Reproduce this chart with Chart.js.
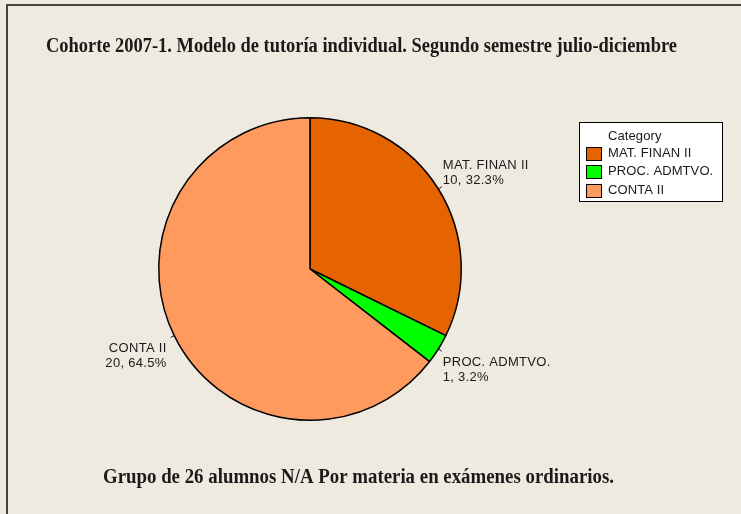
<!DOCTYPE html>
<html>
<head>
<meta charset="utf-8">
<script src="https://cdn.jsdelivr.net/npm/chart.js@4.4.0/dist/chart.umd.min.js"></script>
<style>
  html, body { margin: 0; padding: 0; background: #efeae0; }
</style>
</head>
<body>
<canvas id="chart" width="741" height="514"></canvas>
<script>
const TITLE = 'Cohorte 2007-1. Modelo de tutoría individual. Segundo semestre julio-diciembre';
const FOOTNOTE = 'Grupo de 26 alumnos N/A Por materia en exámenes ordinarios.';
const LEGEND_TITLE = 'Category';
const categories = ['MAT. FINAN II', 'PROC. ADMTVO.', 'CONTA II'];
const counts = [10, 1, 20];
const colors = ['#e66400', '#00ff00', '#ff9a5e'];

const LABEL_FONT = '13px "Liberation Sans", Arial, sans-serif';
const CAPTION_FONT = 'bold 20px "Liberation Serif", "Times New Roman", serif';
const BG = '#efeae0';
const INK = '#1a1a1a';

const total = counts.reduce((a, b) => a + b, 0);
const pct = (i) => (counts[i] / total * 100).toFixed(1) + '%';

// background, frame and the two caption lines
const frame = {
  id: 'frame',
  beforeDraw(chart) {
    const {ctx, width, height} = chart;
    ctx.save();
    ctx.fillStyle = BG;
    ctx.fillRect(0, 0, width, height);
    ctx.strokeStyle = '#444';
    ctx.lineWidth = 2;
    ctx.beginPath();
    ctx.moveTo(7, height);
    ctx.lineTo(7, 5);
    ctx.lineTo(width, 5);
    ctx.stroke();

    // source captions are a condensed serif: squeeze to the measured widths
    ctx.fillStyle = INK;
    ctx.font = CAPTION_FONT;
    ctx.textAlign = 'left';
    ctx.textBaseline = 'alphabetic';
    ctx.fillText(TITLE, 46, 52, 631);
    ctx.fillText(FOOTNOTE, 103, 483, 511);
    ctx.restore();
  }
};

// "name / count, pct" labels with a short leader tick
const sliceLabels = {
  id: 'sliceLabels',
  afterDatasetsDraw(chart) {
    const {ctx} = chart;
    const arcs = chart.getDatasetMeta(0).data;
    ctx.save();
    ctx.font = LABEL_FONT;
    ctx.letterSpacing = '0.3px';
    ctx.fillStyle = INK;
    ctx.strokeStyle = INK;
    ctx.lineWidth = 1;
    ctx.textBaseline = 'alphabetic';
    arcs.forEach((arc, i) => {
      const {x, y, startAngle, endAngle, outerRadius} =
        arc.getProps(['x', 'y', 'startAngle', 'endAngle', 'outerRadius'], true);
      const mid = (startAngle + endAngle) / 2;
      const cos = Math.cos(mid), sin = Math.sin(mid);
      const x1 = x + cos * outerRadius, y1 = y + sin * outerRadius;
      const x2 = x + cos * (outerRadius + 4), y2 = y + sin * (outerRadius + 4);
      ctx.beginPath();
      ctx.moveTo(x1, y1);
      ctx.lineTo(x2, y2);
      ctx.stroke();

      const right = cos >= 0;
      ctx.textAlign = right ? 'left' : 'right';
      const tx = right ? x2 + 1 : x2 - 4;
      const lh = 15;
      const lines = [categories[i], counts[i] + ', ' + pct(i)];
      const first = sin < 0 ? y2 - 3 - lh : y2 + 15;
      lines.forEach((t, k) => ctx.fillText(t, tx, first + k * lh));
    });
    ctx.restore();
  }
};

// boxed legend with a title, drawn from the same arrays
const boxLegend = {
  id: 'boxLegend',
  afterDraw(chart) {
    const {ctx} = chart;
    const bx = 579.5, by = 122.5, bw = 143, bh = 79;
    ctx.save();
    ctx.fillStyle = '#ffffff';
    ctx.fillRect(bx, by, bw, bh);
    ctx.strokeStyle = '#000';
    ctx.lineWidth = 1;
    ctx.strokeRect(bx, by, bw, bh);

    ctx.font = LABEL_FONT;
    ctx.letterSpacing = '0.1px';
    ctx.fillStyle = INK;
    ctx.textAlign = 'left';
    ctx.textBaseline = 'middle';
    ctx.fillText(LEGEND_TITLE, 608, 136);
    categories.forEach((name, i) => {
      const cy = 153 + i * 18.5;
      const sy = Math.round(cy - 6.5) + 0.5;
      ctx.fillStyle = colors[i];
      ctx.fillRect(586.5, sy, 15, 13);
      ctx.strokeStyle = '#000';
      ctx.strokeRect(586.5, sy, 15, 13);
      ctx.fillStyle = INK;
      ctx.fillText(name, 608, cy);
    });
    ctx.restore();
  }
};

new Chart(document.getElementById('chart'), {
  type: 'pie',
  data: {
    labels: categories,
    datasets: [{
      data: counts,
      backgroundColor: colors,
      borderColor: '#000',
      borderWidth: 1.5,
    }],
  },
  options: {
    responsive: false,
    animation: false,
    layout: {padding: {top: 117, bottom: 93, left: 110, right: 231}},
    plugins: {
      legend: {display: false},
      tooltip: {enabled: false},
    },
  },
  plugins: [frame, sliceLabels, boxLegend],
});
</script>
</body>
</html>
